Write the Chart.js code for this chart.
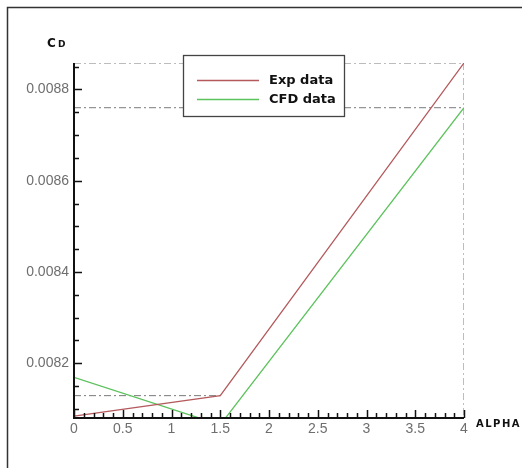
<!DOCTYPE html>
<html>
<head>
<meta charset="utf-8">
<script src="https://cdn.jsdelivr.net/npm/chart.js@4"></script>
<style>
  html, body { margin: 0; padding: 0; background: #fff; }
  #wrap { width: 522px; height: 468px; }
</style>
</head>
<body>
<div id="wrap"><canvas id="cdChart"></canvas></div>
<script>
// drag coefficient vs angle of attack
const alpha = [0, 1.5, 4];
const expCd = [0.008084, 0.008129, 0.008858];
const cfdCd = [0.008169, 0.008065, 0.00876];

const xMin = 0, xMax = 4;
const yMin = 0.00808, yMax = 0.008858;

const xMajor = 0.5, xMinor = 0.1;
const yMajor = 0.0002, yMinor = 0.00005;

const guideColor = '#7a7a7a';
const guideDash = [7, 3, 2, 3];

function pts(xs, ys) {
  return xs.map((x, i) => ({ x: x, y: ys[i] }));
}

function guide(points) {
  return {
    label: '_guide',
    data: points,
    borderColor: guideColor,
    borderWidth: 1,
    borderDash: guideDash,
    pointRadius: 0,
    order: 5
  };
}

const last = alpha.length - 1;

// dash-dot drop lines at the end values and at the red knee
const guides = [
  guide([{ x: xMin, y: expCd[last] }, { x: alpha[last], y: expCd[last] }]),
  guide([{ x: xMin, y: cfdCd[last] }, { x: alpha[last], y: cfdCd[last] }]),
  guide([{ x: xMin, y: expCd[1] }, { x: alpha[1], y: expCd[1] }]),
  guide([{ x: alpha[last], y: expCd[last] }, { x: alpha[last], y: yMin }])
];

// axis lines, inward ticks, titles, frame and the legend box
const decorPlugin = {
  id: 'decor',
  afterDatasetsDraw(chart) {
    const ctx = chart.ctx;
    const xs = chart.scales.x, ys = chart.scales.y;
    const a = chart.chartArea;
    ctx.save();

    // outer frame
    ctx.strokeStyle = '#333';
    ctx.lineWidth = 1.5;
    ctx.beginPath();
    ctx.moveTo(7.5, 470);
    ctx.lineTo(7.5, 7.5);
    ctx.lineTo(530, 7.5);
    ctx.stroke();

    // legend box
    const lx = 183.5, ly = 55.5, lw = 161, lh = 61;
    ctx.fillStyle = '#fff';
    ctx.fillRect(lx, ly, lw, lh);
    ctx.strokeStyle = '#444';
    ctx.lineWidth = 1.3;
    ctx.strokeRect(lx, ly, lw, lh);
    const rows = chart.data.datasets.filter(d => d.label !== '_guide');
    rows.forEach((d, i) => {
      const yy = 80.5 + i * 19;
      ctx.strokeStyle = d.borderColor;
      ctx.lineWidth = 1.3;
      ctx.beginPath();
      ctx.moveTo(197, yy);
      ctx.lineTo(259, yy);
      ctx.stroke();
      ctx.fillStyle = '#111';
      ctx.font = 'bold 13px "DejaVu Sans"';
      ctx.textBaseline = 'middle';
      ctx.textAlign = 'left';
      ctx.fillText(d.label, 269, yy);
    });

    // axes
    ctx.strokeStyle = '#111';
    ctx.lineWidth = 2;
    ctx.beginPath();
    ctx.moveTo(a.left, a.top);
    ctx.lineTo(a.left, a.bottom);
    ctx.lineTo(a.right, a.bottom);
    ctx.stroke();

    ctx.lineWidth = 1.5;
    ctx.beginPath();
    const nx = Math.round((xMax - xMin) / xMinor);
    for (let i = 0; i <= nx; i++) {
      const v = xMin + i * xMinor;
      const px = Math.round(xs.getPixelForValue(v)) + 0.5;
      const major = i % Math.round(xMajor / xMinor) === 0;
      ctx.moveTo(px, a.bottom);
      ctx.lineTo(px, a.bottom - (major ? 8 : 5));
    }
    const y0 = Math.ceil(yMin / yMinor - 1e-6);
    const y1 = Math.floor(yMax / yMinor + 1e-6);
    for (let k = y0; k <= y1; k++) {
      const v = k * yMinor;
      const py = Math.round(ys.getPixelForValue(v)) + 0.5;
      const major = k % Math.round(yMajor / yMinor) === 0;
      ctx.moveTo(a.left, py);
      ctx.lineTo(a.left + (major ? 8 : 5), py);
    }
    ctx.stroke();

    // axis titles
    ctx.fillStyle = '#111';
    ctx.textBaseline = 'alphabetic';
    ctx.textAlign = 'left';
    ctx.font = 'bold 12px "DejaVu Sans"';
    ctx.letterSpacing = '1px';
    ctx.fillText('C', 47, 47);
    ctx.font = 'bold 9px "DejaVu Sans"';
    ctx.fillText('D', 58, 47);
    ctx.font = 'bold 10px "DejaVu Sans"';
    ctx.letterSpacing = '1.5px';
    ctx.fillText('ALPHA', 476, 427);

    ctx.restore();
  }
};

new Chart(document.getElementById('cdChart'), {
  type: 'line',
  data: {
    datasets: [
      {
        label: 'Exp data',
        data: pts(alpha, expCd),
        borderColor: '#b4595c',
        borderWidth: 1.3,
        pointRadius: 0,
        order: 1
      },
      {
        label: 'CFD data',
        data: pts(alpha, cfdCd),
        borderColor: '#5cc25c',
        borderWidth: 1.3,
        pointRadius: 0,
        order: 2
      },
      ...guides
    ]
  },
  options: {
    responsive: true,
    maintainAspectRatio: false,
    animation: false,
    layout: { padding: { left: 0, top: 63, right: 58, bottom: 0 } },
    plugins: {
      legend: { display: false },
      tooltip: { enabled: false }
    },
    scales: {
      x: {
        type: 'linear',
        min: xMin,
        max: xMax,
        border: { display: false },
        grid: { display: false, drawTicks: false },
        ticks: {
          stepSize: xMajor,
          padding: 3,
          color: '#6e6e6e',
          font: { family: 'Liberation Sans', size: 14 },
          maxRotation: 0,
          callback: v => String(v)
        },
        afterFit: s => { s.height = 50; }
      },
      y: {
        type: 'linear',
        min: yMin,
        max: yMax,
        border: { display: false },
        grid: { display: false, drawTicks: false },
        ticks: {
          stepSize: yMajor,
          includeBounds: false,
          padding: 5,
          color: '#6e6e6e',
          font: { family: 'Liberation Sans', size: 14 },
          callback: v => Number(v).toFixed(4)
        },
        afterFit: s => { s.width = 74; }
      }
    }
  },
  plugins: [decorPlugin]
});
</script>
</body>
</html>
